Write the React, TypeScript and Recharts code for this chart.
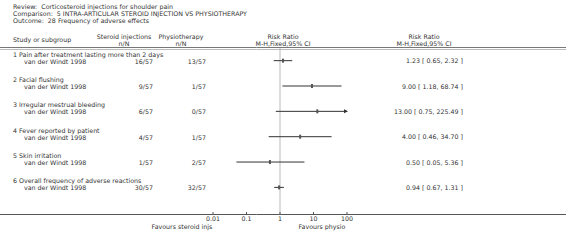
import React from 'react';
import { ScatterChart, Scatter, XAxis, YAxis, ReferenceLine, ReferenceDot } from 'recharts';

const subgroups = [
  '1 Pain after treatment lasting more than 2 days',
  '2 Facial flushing',
  '3 Irregular mestrual bleeding',
  '4 Fever reported by patient',
  '5 Skin irritation',
  '6 Overall frequency of adverse reactions',
];
const studies = ['van der Windt 1998', 'van der Windt 1998', 'van der Windt 1998', 'van der Windt 1998', 'van der Windt 1998', 'van der Windt 1998'];
const steroidEvents = [16, 9, 6, 4, 1, 30];
const steroidTotal = [57, 57, 57, 57, 57, 57];
const physioEvents = [13, 1, 0, 1, 2, 32];
const physioTotal = [57, 57, 57, 57, 57, 57];
const riskRatio = [1.23, 9.0, 13.0, 4.0, 0.5, 0.94];
const ciLow = [0.65, 1.18, 0.75, 0.46, 0.05, 0.67];
const ciHigh = [2.32, 68.74, 225.49, 34.7, 5.36, 1.31];
const xTicks = [0.01, 0.1, 1, 10, 100];

const X_MIN = 0.01;
const X_MAX = 100;
const FONT = '"DejaVu Sans", Verdana, sans-serif';
const FS = 6.3;
const INK = '#333';

const rows = riskRatio.map((rr, i) => ({ row: i + 1, rr, lo: ciLow[i], hi: ciHigh[i] }));
const rowIds = rows.map((r) => r.row);

// one y-axis tick carries the whole table row
const RowTick = (props: any) => {
  const { y, payload } = props;
  const i = Math.round(payload.value) - 1;
  const t = { fontSize: FS, fill: INK, fontFamily: FONT, dominantBaseline: 'central' as const };
  return (
    <g>
      <text x={13} y={y - 6.6} {...t}>{subgroups[i]}</text>
      <text x={24} y={y + 0.4} {...t}>{studies[i]}</text>
      <text x={153} y={y + 0.4} textAnchor="end" {...t}>{`${steroidEvents[i]}/${steroidTotal[i]}`}</text>
      <text x={206} y={y + 0.4} textAnchor="end" {...t}>{`${physioEvents[i]}/${physioTotal[i]}`}</text>
      <text x={463} y={y} textAnchor="end" {...t} style={{ whiteSpace: 'pre' }}>
        {`${riskRatio[i].toFixed(2)} [ ${ciLow[i].toFixed(2)}, ${ciHigh[i].toFixed(2)} ]`}
      </text>
    </g>
  );
};

const Marker = (props: any) => {
  const { cx, cy } = props;
  return <rect x={cx - 1} y={cy - 2} width={2} height={4} fill="#555" />;
};

const Arrow = (props: any) => {
  const { cx, cy } = props;
  return <path d={`M${cx - 3},${cy - 2} L${cx + 1},${cy} L${cx - 3},${cy + 2} Z`} fill="#333" />;
};

export default function App() {
  const t = { fontSize: FS, fill: INK, fontFamily: FONT, dominantBaseline: 'central' as const };
  return (
    <div style={{ position: 'absolute', left: 0, top: 0, width: 566, height: 245, background: '#fff' }}>
      <ScatterChart width={566} height={245} margin={{ top: 48, right: 219, bottom: 0, left: 0 }}>
        <XAxis
          type="number"
          dataKey="rr"
          scale="log"
          domain={[X_MIN, X_MAX]}
          allowDataOverflow
          ticks={xTicks}
          interval={0}
          height={31}
          axisLine={false}
          tickSize={-2}
          tickMargin={5}
          tickLine={{ stroke: '#555' }}
          tick={{ fontSize: FS, fill: INK, fontFamily: FONT }}
          tickFormatter={(v: number) => String(v)}
        />
        <YAxis
          type="number"
          dataKey="row"
          reversed
          domain={[0.5, 7.05]}
          allowDataOverflow
          ticks={rowIds}
          interval={0}
          width={213}
          axisLine={false}
          tickLine={false}
          tick={<RowTick />}
        />
        <ReferenceLine x={1} stroke="#dcdcdc" strokeWidth={2} />
        {rows.map((r) => (
          <ReferenceLine
            key={r.row}
            segment={[
              { x: r.lo, y: r.row },
              { x: Math.min(r.hi, X_MAX), y: r.row },
            ]}
            stroke="#333"
            strokeWidth={1}
            ifOverflow="visible"
          />
        ))}
        {rows
          .filter((r) => r.hi > X_MAX)
          .map((r) => (
            <ReferenceDot key={'a' + r.row} x={X_MAX} y={r.row} ifOverflow="visible" shape={<Arrow />} />
          ))}
        <Scatter data={rows} shape={<Marker />} isAnimationActive={false} />
      </ScatterChart>
      <svg width={566} height={245} style={{ position: 'absolute', left: 0, top: 0, pointerEvents: 'none' }}>
        <text x={13} y={6.5} {...t} style={{ whiteSpace: 'pre' }}>Review:  Corticosteroid injections for shoulder pain</text>
        <text x={13} y={13.5} {...t} style={{ whiteSpace: 'pre' }}>Comparison:  5 INTRA-ARTICULAR STEROID INJECTION VS PHYSIOTHERAPY</text>
        <text x={13} y={20.5} {...t} style={{ whiteSpace: 'pre' }}>Outcome:  28 Frequency of adverse effects</text>
        <text x={13} y={39.5} {...t}>Study or subgroup</text>
        <text x={124} y={36.3} textAnchor="middle" {...t}>Steroid injections</text>
        <text x={124} y={43.3} textAnchor="middle" {...t}>n/N</text>
        <text x={181} y={36.3} textAnchor="middle" {...t}>Physiotherapy</text>
        <text x={181} y={43.3} textAnchor="middle" {...t}>n/N</text>
        <text x={283} y={36.3} textAnchor="middle" {...t}>Risk Ratio</text>
        <text x={283} y={43.3} textAnchor="middle" {...t}>M-H,Fixed,95% CI</text>
        <text x={424} y={36.3} textAnchor="middle" {...t}>Risk Ratio</text>
        <text x={424} y={43.3} textAnchor="middle" {...t}>M-H,Fixed,95% CI</text>
        <line x1={0} x2={566} y1={47.5} y2={47.5} stroke="#777" strokeWidth={1} />
        <line x1={0} x2={566} y1={49.5} y2={49.5} stroke="#bbb" strokeWidth={1} />
        <line x1={0} x2={566} y1={214.5} y2={214.5} stroke="#555" strokeWidth={1} />
        <text x={182} y={226} textAnchor="middle" {...t}>Favours steroid injs</text>
        <text x={322} y={226} textAnchor="middle" {...t}>Favours physio</text>
      </svg>
    </div>
  );
}
